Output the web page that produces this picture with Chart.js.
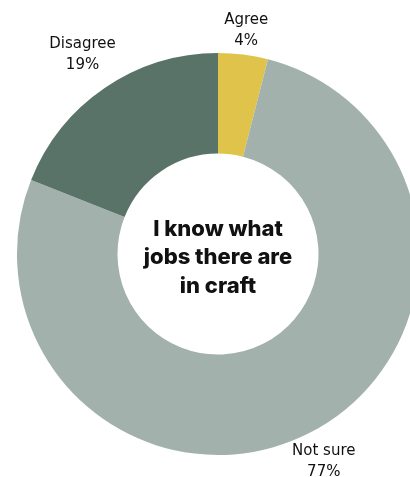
<!DOCTYPE html>
<html>
<head>
<meta charset="utf-8">
<script src="https://cdn.jsdelivr.net/npm/chart.js@4"></script>
<style>
  html, body { margin: 0; padding: 0; background: #fff; overflow: hidden; }
  #wrap { position: absolute; left: 0; top: 0; width: 436px; height: 477px; }
</style>
</head>
<body>
<div id="wrap"><canvas id="donut" width="436" height="477"></canvas></div>
<script>
// answers, in clockwise order from the top
const categories = ['Agree', 'Not sure', 'Disagree'];
const shares = [4, 77, 19];
const sliceColors = ['#e0c34a', '#a2b1ab', '#5a7369'];
const centerLines = ['I know what', 'jobs there are', 'in craft'];

// how far each label sits outside the ring
const labelGap = [24, 32, 40];

// slice labels outside the ring + the title in the hole
const labelPlugin = {
  id: 'ringLabels',
  afterDraw(chart) {
    const c = chart.ctx;
    const arcs = chart.getDatasetMeta(0).data;
    c.save();
    c.fillStyle = '#111';
    c.textAlign = 'center';
    c.textBaseline = 'middle';
    c.font = '15px "DejaVu Sans", sans-serif';
    arcs.forEach((arc, i) => {
      const mid = (arc.startAngle + arc.endAngle) / 2;
      const r = arc.outerRadius + labelGap[i];
      const x = arc.x + Math.cos(mid) * r;
      const y = arc.y + Math.sin(mid) * r;
      c.fillText(categories[i], x, y - 10.5);
      c.fillText(shares[i] + '%', x, y + 10.5);
    });
    // centre title
    const a = arcs[0];
    c.font = '800 22px Inter, sans-serif';
    centerLines.forEach((t, i) => {
      c.fillText(t, a.x, a.y + 3.5 + (i - 1) * 28.5);
    });
    c.restore();
  }
};

new Chart(document.getElementById('donut'), {
  type: 'doughnut',
  plugins: [labelPlugin],
  data: {
    labels: categories,
    datasets: [{
      data: shares,
      backgroundColor: sliceColors,
      borderWidth: 0,
    }],
  },
  options: {
    responsive: false,
    animation: false,
    cutout: '50%',
    layout: { padding: { top: 53, bottom: 22, left: 0, right: 0 } },
    plugins: {
      legend: { display: false },
      tooltip: { enabled: false },
    },
  },
});
</script>
</body>
</html>
